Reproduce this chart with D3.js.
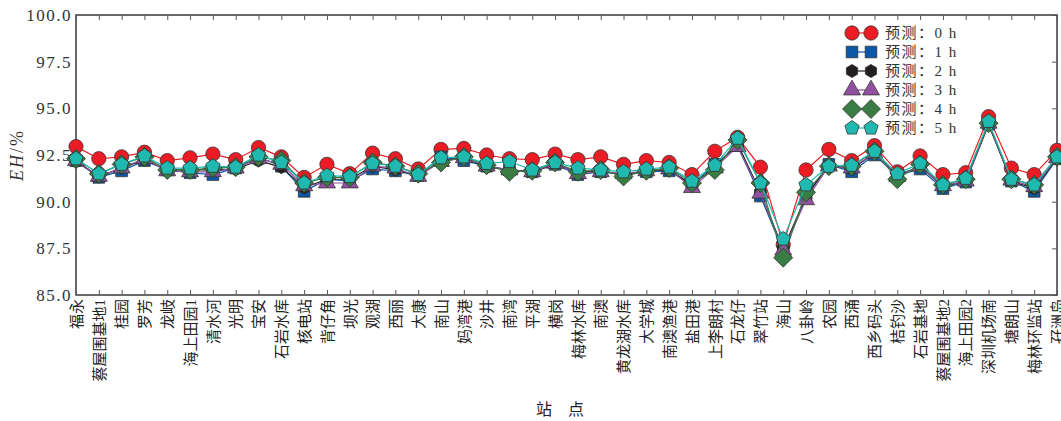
<!DOCTYPE html>
<html>
<head>
<meta charset="utf-8">
<script src="https://cdn.jsdelivr.net/npm/d3@7"></script>
<style>
  body { margin: 0; background: #fff; }
  svg { display: block; }
</style>
</head>
<body>
<svg id="chart"></svg>
<script>
const stations = ["福永","蔡屋围基地1","桂园","罗芳","龙岐","海上田园1","清水河","光明","宝安","石岩水库",
  "核电站","背仔角","坝光","观湖","西丽","大康","南山","妈湾港","沙井","南湾",
  "平湖","横岗","梅林水库","南澳","黄龙湖水库","大学城","南澳渔港","盐田港","上李朗村","石龙仔",
  "翠竹站","海山","八卦岭","农园","西涌","西乡码头","桔钓沙","石岩基地","蔡屋围基地2","海上田园2",
  "深圳机场南","塘朗山","梅林环监站","孖洲岛"];

const pred0h = [92.95,92.3,92.4,92.65,92.2,92.35,92.55,92.25,92.9,92.4,
  91.3,92.0,91.5,92.6,92.3,91.75,92.8,92.85,92.5,92.3,
  92.25,92.55,92.25,92.4,92.0,92.2,92.1,91.45,92.7,93.45,
  91.85,87.7,91.7,92.8,92.2,93.0,91.6,92.45,91.45,91.55,
  94.55,91.8,91.45,92.75];
const pred1h = [92.2,91.3,91.65,92.2,91.7,91.55,91.45,91.8,92.4,91.9,
  90.55,91.2,91.1,91.75,91.65,91.4,92.4,92.2,91.9,91.7,
  91.6,92.0,91.45,91.6,91.45,91.6,91.65,90.9,92.0,93.0,
  90.3,87.35,90.25,92.0,91.6,92.5,91.4,91.75,90.7,91.05,
  94.15,91.1,90.55,92.3];
const pred2h = [92.15,91.35,91.8,92.25,91.7,91.7,91.7,91.75,92.2,91.85,
  90.75,91.2,91.2,91.9,91.7,91.4,92.2,92.35,91.85,91.7,
  91.6,92.0,91.6,91.65,91.45,91.65,91.7,90.9,91.85,93.1,
  90.5,87.45,90.3,91.95,91.75,92.6,91.4,91.9,90.8,91.1,
  94.15,91.1,90.7,92.3];
const pred3h = [92.2,91.35,91.8,92.3,91.65,91.6,91.6,91.8,92.3,92.0,
  90.85,91.0,91.0,91.9,91.8,91.35,92.15,92.35,91.9,91.7,
  91.6,92.05,91.5,91.6,91.5,91.65,91.75,90.75,91.8,92.95,
  90.45,87.4,90.1,91.9,91.8,92.6,91.35,91.9,90.85,91.1,
  94.2,91.15,90.8,92.35];
const pred4h = [92.3,91.5,92.0,92.4,91.7,91.7,91.8,91.85,92.4,92.2,
  91.0,91.3,91.3,92.1,91.9,91.5,92.1,92.4,91.95,91.6,
  91.65,92.1,91.6,91.7,91.35,91.65,91.8,91.0,91.7,93.3,
  91.0,87.0,90.5,91.9,91.9,92.7,91.2,92.0,90.9,91.2,
  94.2,91.2,90.9,92.4];
const pred5h = [92.3,91.5,92.0,92.45,91.8,91.8,91.9,91.85,92.5,92.1,
  91.0,91.4,91.35,92.05,91.9,91.45,92.35,92.4,92.05,92.15,
  91.7,92.1,91.8,91.7,91.6,91.75,91.85,91.1,91.95,93.4,
  91.0,88.0,90.9,91.9,91.95,92.7,91.5,92.05,90.9,91.25,
  94.3,91.2,90.9,92.4];

const seriesNames = ["预测：0 h","预测：1 h","预测：2 h","预测：3 h","预测：4 h","预测：5 h"];
const seriesData = [pred0h, pred1h, pred2h, pred3h, pred4h, pred5h];
const seriesColors = ["#ed1c24","#0b58a8","#231f20","#9150a0","#3a7d44","#1fb9b0"];
const yTicks = [85, 87.5, 90, 92.5, 95, 97.5, 100];

const SERIF = "'Liberation Serif', 'Noto Sans CJK SC', serif";

const W = 1061, H = 421;
const margin = {top: 15, right: 4, bottom: 126, left: 76};
const width = W - margin.left - margin.right;
const height = H - margin.top - margin.bottom;

const svg = d3.select("#chart").attr("width", W).attr("height", H);
const g = svg.append("g").attr("transform", `translate(${margin.left},${margin.top})`);

const x = d3.scalePoint().domain(d3.range(stations.length)).range([0, width]);
const y = d3.scaleLinear().domain([85, 100]).range([height, 0]);

// frame
g.append("rect")
  .attr("width", width).attr("height", height)
  .attr("fill", "none").attr("stroke", "#3a3a3a").attr("stroke-width", 1.5);

// bottom axis: inward ticks + rotated labels
const xb = g.append("g").attr("transform", `translate(0,${height})`)
  .call(d3.axisBottom(x).tickSizeInner(-5).tickSizeOuter(0).tickFormat(i => stations[i]));
xb.select(".domain").remove();
xb.selectAll("line").attr("stroke", "#555");
xb.selectAll("text")
  .attr("transform", "rotate(-90)")
  .attr("x", -4).attr("y", 0).attr("dy", "0.35em")
  .style("text-anchor", "end")
  .style("font-family", SERIF)
  .style("font-size", "15px").attr("fill", "#222");

// top ticks
const xt = g.append("g")
  .call(d3.axisTop(x).tickSizeInner(-5).tickSizeOuter(0).tickFormat(""));
xt.select(".domain").remove();
xt.selectAll("line").attr("stroke", "#555");

// left axis
const yl = g.append("g")
  .call(d3.axisLeft(y).tickValues(yTicks).tickSize(0).tickPadding(4).tickFormat(d3.format(".1f")));
yl.select(".domain").remove();
yl.selectAll("text")
  .style("font-family", SERIF).style("font-size", "17px")
  .style("letter-spacing", "1.5px").attr("fill", "#333");

// right ticks
const yr = g.append("g").attr("transform", `translate(${width},0)`)
  .call(d3.axisRight(y).tickValues(yTicks).tickSizeInner(-5).tickSizeOuter(0).tickFormat(""));
yr.select(".domain").remove();
yr.selectAll("line").attr("stroke", "#555");

// axis titles
const yTitle = svg.append("text")
  .attr("transform", `translate(23,${margin.top + height / 2}) rotate(-90)`)
  .attr("text-anchor", "middle")
  .style("font-family", SERIF).style("font-size", "18px")
  .style("letter-spacing", "2px").attr("fill", "#333");
yTitle.append("tspan").style("font-style", "italic").text("EH");
yTitle.append("tspan").text("/%");

svg.append("text")
  .attr("x", 560).attr("y", 415)
  .attr("text-anchor", "middle")
  .style("font-family", SERIF).style("font-size", "16px").attr("fill", "#222")
  .text("站　点");

// markers
function hexPath(r) {
  const pts = d3.range(6).map(k => { const a = Math.PI / 6 + k * Math.PI / 3; return [r * Math.cos(a), r * Math.sin(a)]; });
  return "M" + pts.join("L") + "Z";
}
function diamondPath(r) { return `M0,${-r}L${r},0L0,${r}L${-r},0Z`; }
function pentPath(r) {
  const pts = d3.range(5).map(k => { const a = -Math.PI / 2 + k * 2 * Math.PI / 5; return [r * Math.cos(a), r * Math.sin(a)]; });
  return "M" + pts.join("L") + "Z";
}
function markerPath(s) {
  if (s === 0) return d3.symbol().type(d3.symbolCircle).size(160)();
  if (s === 1) return d3.symbol().type(d3.symbolSquare).size(135)();
  if (s === 2) return hexPath(6.5);
  if (s === 3) return d3.symbol().type(d3.symbolTriangle).size(125)();
  if (s === 4) return diamondPath(9.5);
  return pentPath(7.5);
}

const line = d3.line().x((d, i) => x(i)).y(d => y(d));

seriesData.forEach((vals, s) => {
  g.append("path").datum(vals)
    .attr("d", line)
    .attr("fill", "none").attr("stroke", seriesColors[s]).attr("stroke-width", 1.2);
  g.selectAll(".m" + s).data(vals).enter().append("path")
    .attr("class", "m" + s)
    .attr("transform", (d, i) => `translate(${x(i)},${y(d)})`)
    .attr("d", markerPath(s))
    .attr("fill", seriesColors[s]).attr("stroke", "#333").attr("stroke-width", 0.8);
});

// legend
const legend = svg.append("g").attr("transform", "translate(852,33)");
seriesNames.forEach((name, s) => {
  const row = legend.append("g").attr("transform", `translate(0,${s * 19})`);
  row.append("line").attr("x1", 0).attr("x2", 19).attr("stroke", seriesColors[s]).attr("stroke-width", 1.2);
  [0, 19].forEach(px => {
    row.append("path").attr("transform", `translate(${px},0)`)
      .attr("d", markerPath(s))
      .attr("fill", seriesColors[s]).attr("stroke", "#333").attr("stroke-width", 0.8);
  });
  row.append("text").attr("x", 33).attr("y", 0).attr("dy", "0.35em")
    .style("font-family", SERIF).style("font-size", "15px")
    .style("letter-spacing", "1.5px").attr("fill", "#333")
    .text(name);
});
</script>
</body>
</html>
